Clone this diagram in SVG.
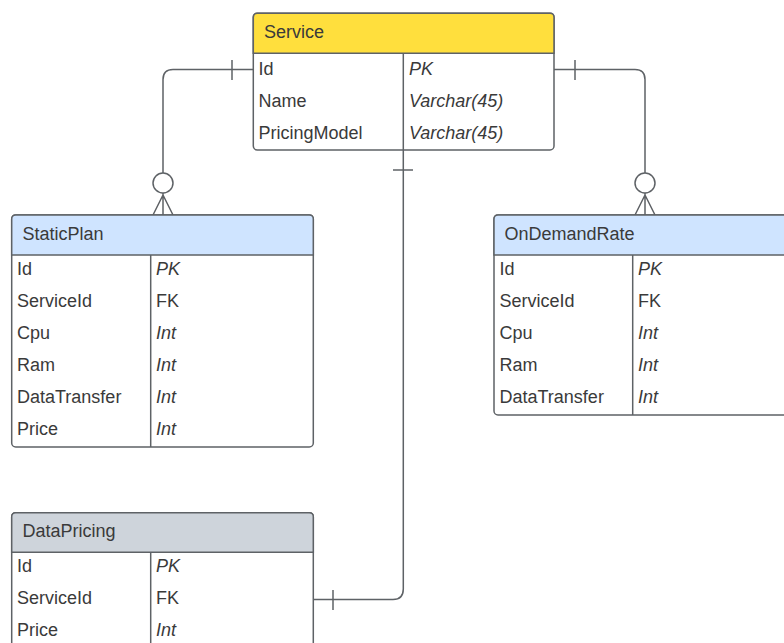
<svg xmlns="http://www.w3.org/2000/svg" width="784" height="643" viewBox="0 0 784 643">
<defs>
<style>
.box{fill:#ffffff;stroke:#5e6266;stroke-width:1.5}
.hdr{stroke:#5e6266;stroke-width:1.5}
.ln{stroke:#5e6266;stroke-width:1.5;fill:none}
.t{font-family:"Liberation Sans",Arial,sans-serif;font-size:18px;fill:#3a3a3a}
.i{font-style:italic}
</style>
</defs>
<rect width="784" height="643" fill="#ffffff"/>
<g id="connectors">
<path class="ln" d="M253,69.5 H173 Q163,69.5 163,79.5 V173"/>
<line class="ln" x1="232" y1="60" x2="232" y2="80"/>
<circle class="ln" cx="163" cy="183" r="10" fill="#ffffff"/>
<path class="ln" d="M163,193 V215 M163,195 L153,215 M163,195 L173,215"/>
<path class="ln" d="M554,69.5 H635 Q645,69.5 645,79.5 V173"/>
<line class="ln" x1="575" y1="60" x2="575" y2="80"/>
<circle class="ln" cx="645" cy="183" r="10" fill="#ffffff"/>
<path class="ln" d="M645,193 V215 M645,195 L635,215 M645,195 L655,215"/>
<path class="ln" d="M403.3,150 V589 Q403.3,599.5 393,599.5 H313"/>
<line class="ln" x1="393" y1="170" x2="413" y2="170"/>
<line class="ln" x1="333" y1="590" x2="333" y2="610"/>
</g>
<g id="service">
<rect class="box" x="253.3" y="13.3" width="300.7" height="136.7" rx="4"/>
<path class="hdr" fill="#ffdf3d" d="M253.3,53.3 V17.3 Q253.3,13.3 257.3,13.3 H550 Q554,13.3 554,17.3 V53.3 Z"/>
<line class="ln" x1="403.3" y1="53.3" x2="403.3" y2="150"/>
<text class="t" x="264" y="37.5">Service</text>
<text class="t" x="258.5" y="74.5">Id</text>
<text class="t i" x="409" y="74.5">PK</text>
<text class="t" x="258.5" y="106.5">Name</text>
<text class="t i" x="409" y="106.5">Varchar(45)</text>
<text class="t" x="258.5" y="138.5">PricingModel</text>
<text class="t i" x="409" y="138.5">Varchar(45)</text>
</g>
<g id="staticplan">
<rect class="box" x="11.7" y="215" width="301.6" height="232" rx="4"/>
<path class="hdr" fill="#cfe4ff" d="M11.7,255 V219 Q11.7,215 15.7,215 H309.3 Q313.3,215 313.3,219 V255 Z"/>
<line class="ln" x1="150.7" y1="255" x2="150.7" y2="447"/>
<text class="t" x="22.5" y="239.5">StaticPlan</text>
<text class="t" x="17" y="274.5">Id</text>
<text class="t i" x="156" y="274.5">PK</text>
<text class="t" x="17" y="306.5">ServiceId</text>
<text class="t" x="156" y="306.5">FK</text>
<text class="t" x="17" y="338.5">Cpu</text>
<text class="t i" x="156" y="338.5">Int</text>
<text class="t" x="17" y="370.5">Ram</text>
<text class="t i" x="156" y="370.5">Int</text>
<text class="t" x="17" y="402.5">DataTransfer</text>
<text class="t i" x="156" y="402.5">Int</text>
<text class="t" x="17" y="434.5">Price</text>
<text class="t i" x="156" y="434.5">Int</text>
</g>
<g id="ondemandrate">
<rect class="box" x="494" y="215" width="301.6" height="200" rx="4"/>
<path class="hdr" fill="#cfe4ff" d="M494,255 V219 Q494,215 498,215 H791.6 Q795.6,215 795.6,219 V255 Z"/>
<line class="ln" x1="632.7" y1="255" x2="632.7" y2="415"/>
<text class="t" x="504.5" y="239.5">OnDemandRate</text>
<text class="t" x="499.5" y="274.5">Id</text>
<text class="t i" x="638" y="274.5">PK</text>
<text class="t" x="499.5" y="306.5">ServiceId</text>
<text class="t" x="638" y="306.5">FK</text>
<text class="t" x="499.5" y="338.5">Cpu</text>
<text class="t i" x="638" y="338.5">Int</text>
<text class="t" x="499.5" y="370.5">Ram</text>
<text class="t i" x="638" y="370.5">Int</text>
<text class="t" x="499.5" y="402.5">DataTransfer</text>
<text class="t i" x="638" y="402.5">Int</text>
</g>
<g id="datapricing">
<rect class="box" x="11.7" y="512.7" width="301.6" height="135.3" rx="4"/>
<path class="hdr" fill="#ced4db" d="M11.7,552.3 V516.7 Q11.7,512.7 15.7,512.7 H309.3 Q313.3,512.7 313.3,516.7 V552.3 Z"/>
<line class="ln" x1="150.7" y1="552.3" x2="150.7" y2="648"/>
<text class="t" x="22.5" y="537">DataPricing</text>
<text class="t" x="17" y="572">Id</text>
<text class="t i" x="156" y="572">PK</text>
<text class="t" x="17" y="604">ServiceId</text>
<text class="t" x="156" y="604">FK</text>
<text class="t" x="17" y="636">Price</text>
<text class="t i" x="156" y="636">Int</text>
</g>
</svg>
